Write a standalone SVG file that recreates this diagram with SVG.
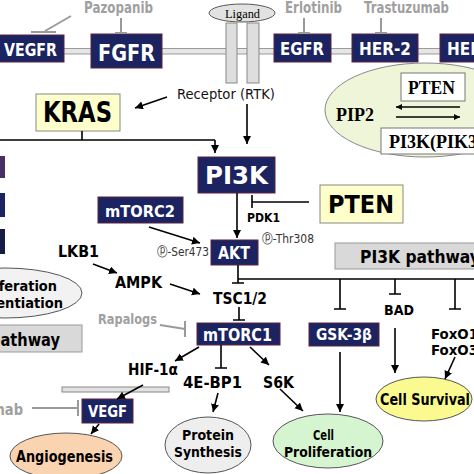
<svg xmlns="http://www.w3.org/2000/svg" width="474" height="474" viewBox="0 0 474 474">
<style>
.s{font-family:"DejaVu Sans","Liberation Sans",sans-serif;font-weight:bold}
.w{fill:#fff}
.k{fill:#000}
.g{fill:#a0a0a0}
.p{font-family:"DejaVu Sans","Liberation Sans",sans-serif;fill:#333}
.r{font-family:"Liberation Serif",serif;fill:#000}
.nv{fill:#1b2361;stroke:#5e2340;stroke-width:1}
.ln{stroke:#000;stroke-width:1.6;fill:none}
.gl{stroke:#9a9a9a;stroke-width:2;fill:none}
.ar{marker-end:url(#ah)}
</style>
<defs>
<marker id="ah" markerUnits="userSpaceOnUse" markerWidth="9" markerHeight="9" refX="8" refY="4" orient="auto">
<path d="M0,0 L8,4 L0,8 z" fill="#000"/>
</marker>
<marker id="ah2" markerUnits="userSpaceOnUse" markerWidth="7" markerHeight="7" refX="6" refY="3" orient="auto">
<path d="M0,0 L6,3 L0,6 z" fill="#000"/>
</marker>
</defs>
<rect width="474" height="474" fill="#fff"/>

<!-- membrane -->
<rect x="-2" y="48.5" width="480" height="5.5" fill="#e6e6e6" stroke="#9a9a9a" stroke-width="1"/>

<g id="ligand">
<ellipse cx="242" cy="13" rx="33" ry="9" fill="#e2e2e2" stroke="#555" stroke-width="1"/>
<text class="r" x="225" y="18" font-size="12" textLength="35" lengthAdjust="spacingAndGlyphs">Ligand</text>
</g>
<g id="receptor">
<rect x="226" y="23" width="11" height="60" fill="#dedede" stroke="#888" stroke-width="1"/>
<rect x="247" y="23" width="12" height="60" fill="#dedede" stroke="#888" stroke-width="1"/>
<text class="p" x="177" y="99" font-size="14" textLength="98" lengthAdjust="spacingAndGlyphs" style="fill:#111">Receptor (RTK)</text>
</g>

<g id="vegfr"><rect class="nv" x="-2" y="35" width="66" height="27"/><text class="s w" x="4" y="56" font-size="18" textLength="53" lengthAdjust="spacingAndGlyphs">VEGFR</text></g>
<g id="fgfr"><rect class="nv" x="91" y="34" width="71" height="34"/><text class="s w" x="98" y="61" font-size="23" textLength="57" lengthAdjust="spacingAndGlyphs">FGFR</text></g>
<g id="egfr"><rect class="nv" x="274" y="34" width="57" height="28"/><text class="s w" x="280" y="55" font-size="17" textLength="44" lengthAdjust="spacingAndGlyphs">EGFR</text></g>
<g id="her2"><rect class="nv" x="352" y="34" width="66" height="28"/><text class="s w" x="359" y="55" font-size="17" textLength="52" lengthAdjust="spacingAndGlyphs">HER-2</text></g>
<g id="her3"><rect class="nv" x="440" y="34" width="40" height="28"/><text class="s w" x="447" y="55" font-size="17" textLength="52" lengthAdjust="spacingAndGlyphs">HER-3</text></g>

<g id="drugs-top">
<text class="s g" x="84" y="13" font-size="15" textLength="69" lengthAdjust="spacingAndGlyphs">Pazopanib</text>
<text class="s g" x="285" y="13" font-size="15" textLength="57" lengthAdjust="spacingAndGlyphs">Erlotinib</text>
<text class="s g" x="364" y="13" font-size="15" textLength="85" lengthAdjust="spacingAndGlyphs">Trastuzumab</text>
</g>

<g id="pip2-panel">
<ellipse cx="425" cy="110" rx="100" ry="47" fill="#eef5d8" stroke="#888" stroke-width="1"/>
<rect x="401" y="73" width="64" height="28" fill="#fff" stroke="#777" stroke-width="1"/>
<text class="r" x="408" y="94" font-size="18" font-weight="bold" textLength="47" lengthAdjust="spacingAndGlyphs">PTEN</text>
<text class="r" x="336" y="121" font-size="18" font-weight="bold" textLength="38" lengthAdjust="spacingAndGlyphs">PIP2</text>
<rect x="381" y="128" width="100" height="26" fill="#fff" stroke="#777" stroke-width="1"/>
<text class="r" x="389" y="148" font-size="18" font-weight="bold">PI3K(PIK3CA)</text>
<line x1="460" y1="107" x2="396" y2="107" stroke="#000" stroke-width="1.4" marker-end="url(#ah2)"/>
<line x1="396" y1="117" x2="460" y2="117" stroke="#000" stroke-width="1.4" marker-end="url(#ah2)"/>
</g>

<g id="kras"><rect x="36" y="94" width="84" height="37" fill="#ffffcc" stroke="#888" stroke-width="1"/><text class="s k" x="43" y="122" font-size="29" textLength="69" lengthAdjust="spacingAndGlyphs">KRAS</text></g>
<g id="pi3k"><rect class="nv" x="198" y="157" width="77" height="36"/><text class="s w" x="205" y="184" font-size="25" textLength="63" lengthAdjust="spacingAndGlyphs">PI3K</text></g>
<g id="pten"><rect x="320" y="185" width="83" height="38" fill="#ffffcc" stroke="#888" stroke-width="1"/><text class="s k" x="328" y="213" font-size="24" textLength="66" lengthAdjust="spacingAndGlyphs">PTEN</text></g>
<g id="mtorc2"><rect class="nv" x="98" y="197" width="85" height="26"/><text class="s w" x="105" y="217" font-size="16" textLength="70" lengthAdjust="spacingAndGlyphs">mTORC2</text></g>
<g id="pdk1"><text class="s k" x="247" y="222" font-size="13" textLength="33" lengthAdjust="spacingAndGlyphs">PDK1</text></g>
<g id="thr308"><text class="p" x="262" y="243" font-size="13" textLength="52" lengthAdjust="spacingAndGlyphs">ⓟ-Thr308</text></g>
<g id="ser473"><text class="p" x="157" y="256" font-size="13" textLength="52" lengthAdjust="spacingAndGlyphs">ⓟ-Ser473</text></g>
<g id="akt"><rect class="nv" x="211" y="240" width="47" height="25"/><text class="s w" x="218" y="259" font-size="17" textLength="32" lengthAdjust="spacingAndGlyphs">AKT</text></g>
<g id="pi3k-pathway"><rect x="335" y="243" width="145" height="26" fill="#d9d9d9" stroke="#999" stroke-width="1"/><text class="s k" x="360" y="263" font-size="17" textLength="120" lengthAdjust="spacingAndGlyphs">PI3K pathway</text></g>

<g id="left-boxes">
<rect x="-3" y="156" width="8" height="22" fill="#4a2e66"/>
<rect x="-3" y="193" width="8" height="24" fill="#1b2361"/>
<rect x="-3" y="229" width="8" height="25" fill="#161c44"/>
</g>
<g id="prolif-diff">
<ellipse cx="5" cy="293" rx="77" ry="25" fill="#f2f2f2" stroke="#555" stroke-width="1"/>
<text class="s k" x="-35" y="291" font-size="14" textLength="92" lengthAdjust="spacingAndGlyphs">Proliferation</text>
<text class="s k" x="-45" y="308" font-size="14" textLength="108" lengthAdjust="spacingAndGlyphs">Differentiation</text>
</g>
<g id="mapk-pathway"><rect x="-5" y="325" width="87" height="27" fill="#d9d9d9" stroke="#999" stroke-width="1"/><text class="s k" x="-10" y="346" font-size="17" textLength="70" lengthAdjust="spacingAndGlyphs">pathway</text></g>

<g id="lkb1"><text class="s k" x="58" y="257" font-size="15" textLength="41" lengthAdjust="spacingAndGlyphs">LKB1</text></g>
<g id="ampk"><text class="s k" x="115" y="288" font-size="15" textLength="47" lengthAdjust="spacingAndGlyphs">AMPK</text></g>
<g id="tsc"><text class="s k" x="213" y="304" font-size="15" textLength="54" lengthAdjust="spacingAndGlyphs">TSC1/2</text></g>
<g id="rapalogs"><text class="s g" x="98" y="324" font-size="14" textLength="59" lengthAdjust="spacingAndGlyphs">Rapalogs</text></g>
<g id="mtorc1"><rect class="nv" x="197" y="323" width="83" height="22"/><text class="s w" x="203" y="341" font-size="17" textLength="69" lengthAdjust="spacingAndGlyphs">mTORC1</text></g>
<g id="gsk3b"><rect class="nv" x="309" y="323" width="70" height="23"/><text class="s w" x="316" y="340" font-size="15" textLength="56" lengthAdjust="spacingAndGlyphs">GSK-3β</text></g>
<g id="bad"><text class="s k" x="384" y="315" font-size="14" textLength="30" lengthAdjust="spacingAndGlyphs">BAD</text></g>
<g id="foxo"><text class="s k" x="431" y="339" font-size="13.5" textLength="47" lengthAdjust="spacingAndGlyphs">FoxO1</text><text class="s k" x="431" y="355" font-size="13.5" textLength="47" lengthAdjust="spacingAndGlyphs">FoxO3</text></g>
<g id="hif1a"><text class="s k" x="128" y="375" font-size="15" textLength="50" lengthAdjust="spacingAndGlyphs">HIF-1α</text></g>
<g id="4ebp1"><text class="s k" x="183" y="388" font-size="15" textLength="59" lengthAdjust="spacingAndGlyphs">4E-BP1</text></g>
<g id="s6k"><text class="s k" x="263" y="388" font-size="15" textLength="31" lengthAdjust="spacingAndGlyphs">S6K</text></g>
<g id="bar-vegf"><rect x="62" y="387" width="107" height="5" fill="#e2e2e2" stroke="#888" stroke-width="1"/></g>
<g id="vegf"><rect class="nv" x="82" y="399" width="51" height="24"/><text class="s w" x="88" y="417" font-size="16" textLength="39" lengthAdjust="spacingAndGlyphs">VEGF</text></g>
<g id="bevacizumab"><text class="s g" x="-74" y="415" font-size="15" textLength="97" lengthAdjust="spacingAndGlyphs">Bevacizumab</text></g>
<g id="angiogenesis"><ellipse cx="66" cy="456" rx="56" ry="23" fill="#fad3b0" stroke="#555" stroke-width="1"/><text class="s k" x="16" y="462" font-size="15" textLength="97" lengthAdjust="spacingAndGlyphs">Angiogenesis</text></g>
<g id="protein-synthesis"><ellipse cx="208" cy="445" rx="43" ry="28" fill="#eeeeee" stroke="#555" stroke-width="1"/><text class="s k" x="182" y="440" font-size="13.5" textLength="52" lengthAdjust="spacingAndGlyphs">Protein</text><text class="s k" x="174" y="457" font-size="13.5" textLength="68" lengthAdjust="spacingAndGlyphs">Synthesis</text></g>
<g id="cell-proliferation"><ellipse cx="328" cy="441" rx="55" ry="27" fill="#d5f5d0" stroke="#555" stroke-width="1"/><text class="s k" x="313" y="440" font-size="13.5" textLength="21" lengthAdjust="spacingAndGlyphs">Cell</text><text class="s k" x="284" y="457" font-size="13.5" textLength="88" lengthAdjust="spacingAndGlyphs">Proliferation</text></g>
<g id="cell-survival"><ellipse cx="424" cy="399" rx="48" ry="22" fill="#fafa90" stroke="#555" stroke-width="1"/><text class="s k" x="380" y="405" font-size="15" textLength="90" lengthAdjust="spacingAndGlyphs">Cell Survival</text></g>

<g id="connectors">
<path class="gl" d="M121,18 V33 M115,33 H127"/>
<path class="gl" d="M71,16 L45,31 M31,32 H56"/>
<path class="gl" d="M304,18 V33 M298,33 H310"/>
<path class="gl" d="M381,18 V33 M375,33 H387"/>
<path class="gl" d="M160,325 L185,329 M185,321 V337"/>
<path class="gl" d="M32,408 H77 M78,400 V416"/>
<line class="ln ar" x1="167" y1="97" x2="135" y2="108"/>
<path class="ln" d="M82,131 V140 M0,140 H215"/>
<line class="ln ar" x1="215" y1="140" x2="215" y2="153"/>
<line class="ln ar" x1="247" y1="104" x2="247" y2="144"/>
<line class="ln ar" x1="237" y1="193" x2="237" y2="238"/>
<path class="ln" d="M309,202 H252 M252,195 V208"/>
<line class="ln ar" x1="149" y1="227" x2="200" y2="243"/>
<line class="ln ar" x1="93" y1="264" x2="117" y2="273"/>
<line class="ln ar" x1="170" y1="284" x2="200" y2="294"/>
<path class="ln" d="M238,265 V283 M232,283 H244 M238,279 H480"/>
<path class="ln" d="M340,279 V309 M334,309 H346"/>
<path class="ln" d="M395,279 V294 M389,294 H401"/>
<path class="ln" d="M455,279 V309 M449,309 H461"/>
<path class="ln" d="M239,307 V320 M233,320 H245"/>
<line class="ln ar" x1="199" y1="347" x2="175" y2="361"/>
<path class="ln" d="M221,345 V368 M215,368 H227"/>
<line class="ln ar" x1="250" y1="347" x2="269" y2="365"/>
<line class="ln ar" x1="280" y1="389" x2="303" y2="411"/>
<line class="ln ar" x1="218" y1="393" x2="213" y2="412"/>
<line class="ln ar" x1="340" y1="352" x2="340" y2="412"/>
<line class="ln ar" x1="395" y1="328" x2="395" y2="373"/>
<line class="ln ar" x1="455" y1="357" x2="445" y2="379"/>
<line class="ln ar" x1="143" y1="385" x2="117" y2="399"/>
<line class="ln ar" x1="99" y1="424" x2="91" y2="434"/>
</g>
</svg>
